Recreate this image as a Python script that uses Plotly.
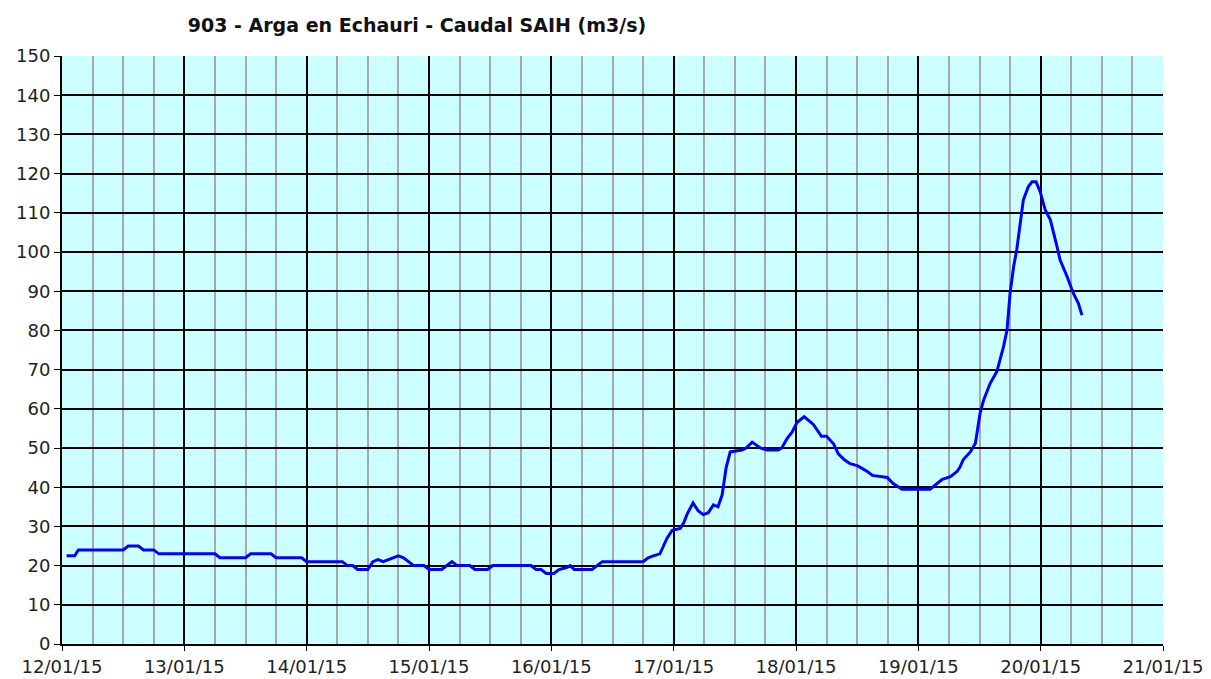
import plotly.graph_objects as go
import pandas as pd

title_text = "903 - Arga en Echauri - Caudal SAIH (m3/s)"
start = "2015-01-12 00:00"

# hours since 12/01/15 00:00
hours = [0.9, 2.5, 3.2, 12, 13, 15, 16, 18, 19, 30, 31, 36, 37, 41, 42, 47, 48, 55, 56, 57,
         58, 60, 61, 62, 63, 64, 65, 66, 67, 68, 69, 71, 72, 74.5, 75.5, 76.5, 77.5, 80, 81, 83.5,
         84.5, 92, 93, 94, 95, 96.5, 97.5, 99, 99.7, 100.5, 104, 105, 106, 114, 115, 116, 117.3, 118, 118.7, 119.7,
         121.3, 122, 122.6, 123.8, 124.8, 125.8, 126.8, 127.8, 128.7, 129.5, 130.3, 131.1, 133.4, 134.2, 135.4, 137, 138.3, 140.5, 141.2, 142.3,
         143.2, 144.2, 145.6, 147.4, 149, 150, 151.4, 152.3, 153.5, 154.6, 156, 156.7, 158, 159, 161.9, 163, 164.8, 170.3,
         171.2, 172.7, 174.3, 175.6, 176.2, 176.8, 178.2, 179.2, 180.1, 180.8, 182.1, 183.4, 184.7, 185.4, 186.0, 186.7, 187.3, 188.0,
         188.6, 189.6, 190.3, 191.1, 191.9, 192.9, 193.9, 195.2, 195.8, 197.2, 198.4, 199.4, 200.1]
flow = [22.5, 22.5, 24, 24, 25, 25, 24, 24, 23, 23, 22, 22, 23, 23, 22, 22, 21, 21, 20, 20,
        19, 19, 21, 21.5, 21, 21.5, 22, 22.5, 22, 21, 20, 20, 19, 19, 20, 21, 20, 20, 19, 19,
        20, 20, 19, 19, 18, 18, 19, 19.5, 20, 19, 19, 20, 21, 21, 22, 22.5, 23, 25, 27, 29,
        29.5, 31, 33, 36, 34, 33, 33.5, 35.5, 35, 38, 45, 49, 49.5, 50, 51.5, 50, 49.5, 49.5, 50, 52.5,
        54, 56.5, 58, 56, 53, 53, 51, 48.5, 47, 46, 45.5, 45, 44, 43, 42.5, 41, 39.5, 39.5,
        40.5, 42, 42.7, 44, 45.2, 47, 49, 51.2, 58.8, 62.2, 66.5, 69.5, 75.8, 80.1, 89.5, 96.3, 100.5, 107.3,
        113.3, 116.7, 117.9, 117.9, 115.4, 110.7, 108.2, 101.4, 98.0, 93.7, 89.5, 86.9, 83.9]

times = pd.Timestamp(start) + pd.to_timedelta(hours, unit="h")

fig = go.Figure()
fig.add_trace(go.Scatter(x=times, y=flow, mode="lines",
                         line=dict(color="#0000FF", width=3), showlegend=False))

font_family = "DejaVu Sans, Verdana, sans-serif"
fig.update_layout(
    width=1211, height=679,
    margin=dict(l=62, r=48, t=56, b=35, autoexpand=False),
    paper_bgcolor="white", plot_bgcolor="#CCFFFF",
    title=dict(text="<b>" + title_text + "</b>", x=417/1211, xref="container", xanchor="center",
               y=1 - 25/679, yanchor="middle", font=dict(family=font_family, size=19, color="#111")),
    font=dict(family=font_family, size=18, color="#222"),
)
fig.update_xaxes(
    range=["2015-01-12", "2015-01-21"], type="date", automargin=False,
    dtick=86400000, tick0="2015-01-12", tickformat="%d/%m/%y",
    showgrid=True, gridcolor="black", gridwidth=1.5,
    minor=dict(dtick=21600000, tick0="2015-01-12", showgrid=True, gridcolor="#A8A8A8", gridwidth=1.5),
    ticks="outside", ticklen=5, tickcolor="black",
    showline=True, linecolor="black", linewidth=2, zeroline=False,
    tickfont=dict(size=18, color="#222"),
)
fig.update_yaxes(
    range=[0, 150], dtick=10, tick0=0, automargin=False,
    showgrid=True, gridcolor="black", gridwidth=1.5,
    ticks="outside", ticklen=6, tickcolor="black",
    showline=True, linecolor="black", linewidth=2, zeroline=False,
    tickfont=dict(size=18, color="#222"),
)
fig.write_html("out.html", config={"displayModeBar": False},
               post_script="document.body.style.margin='0';document.body.style.overflow='hidden';")
